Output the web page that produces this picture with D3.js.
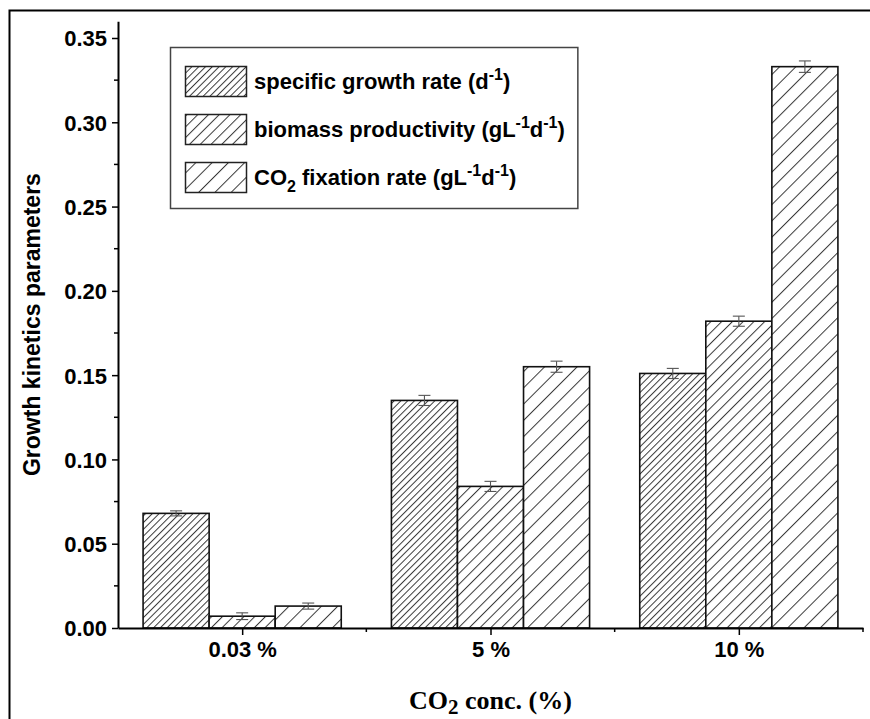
<!DOCTYPE html>
<html>
<head>
<meta charset="utf-8">
<script src="https://cdn.jsdelivr.net/npm/d3@7"></script>
<style>
  html, body { margin: 0; padding: 0; background: #fff; }
  svg { display: block; }
  .sans { font-family: "Liberation Sans", Arial, Helvetica, sans-serif; font-weight: bold; }
  .serif { font-family: "Liberation Serif", "Times New Roman", serif; font-weight: bold; }
</style>
</head>
<body>
<svg id="chart" width="870" height="719"></svg>
<script>
// CO2 concentration groups
const categories = ["0.03 %", "5 %", "10 %"];

// Series values (one per group) and their standard errors
const growthRate      = [0.068, 0.135, 0.151];
const growthRateErr   = [0.0015, 0.003, 0.003];
const biomassProd     = [0.007, 0.084, 0.182];
const biomassProdErr  = [0.002, 0.003, 0.003];
const co2Fixation     = [0.013, 0.155, 0.333];
const co2FixationErr  = [0.0018, 0.0033, 0.0034];

// Y-axis tick values
const yMajorTicks = [0, 0.05, 0.10, 0.15, 0.20, 0.25, 0.30, 0.35];
const yMinorTicks = [0.025, 0.075, 0.125, 0.175, 0.225, 0.275, 0.325];

const series = [
  { key: "sgr",  values: growthRate,  errors: growthRateErr,  spacing: 4.8 },
  { key: "bp",   values: biomassProd, errors: biomassProdErr, spacing: 7.6 },
  { key: "cfr",  values: co2Fixation, errors: co2FixationErr, spacing: 11.5 }
];

const svg = d3.select("#chart");

// Outer figure frame
svg.append("rect")
  .attr("x", 9.5).attr("y", 10.5)
  .attr("width", 900).attr("height", 800)
  .attr("fill", "none").attr("stroke", "#000").attr("stroke-width", 2);

// Hatch patterns: diagonal "/" lines at different densities
const defs = svg.append("defs");
series.forEach(s => {
  const p = defs.append("pattern")
    .attr("id", "hatch-" + s.key)
    .attr("patternUnits", "userSpaceOnUse")
    .attr("width", s.spacing).attr("height", s.spacing)
    .attr("patternTransform", "rotate(45)");
  p.append("rect").attr("width", s.spacing).attr("height", s.spacing).attr("fill", "#fff");
  p.append("line")
    .attr("x1", 0.5).attr("y1", 0).attr("x2", 0.5).attr("y2", s.spacing)
    .attr("stroke", "#3a3a3a").attr("stroke-width", 1);
});

const x = d3.scaleLinear().domain([0.5, 3.5]).range([118, 863]);
const y = d3.scaleLinear().domain([0, 0.36]).range([628, 628 - 0.36 * (590 / 0.35)]);
const barW = 0.266; // bar width in group units

// Bars
series.forEach((s, si) => {
  const g = svg.append("g");
  g.selectAll("rect")
    .data(s.values)
    .join("rect")
    .attr("x", (d, i) => x(i + 1 + (si - 1.5) * barW))
    .attr("width", x(1 + barW) - x(1))
    .attr("y", d => y(d))
    .attr("height", d => y(0) - y(d))
    .attr("fill", "url(#hatch-" + s.key + ")")
    .attr("stroke", "#111").attr("stroke-width", 1.6);
});

// Error bars
series.forEach((s, si) => {
  const g = svg.append("g").attr("stroke", "#555").attr("stroke-width", 1.1);
  s.values.forEach((v, i) => {
    const cx = x(i + 1 + (si - 1) * barW);
    const e = s.errors[i];
    g.append("line").attr("x1", cx).attr("x2", cx).attr("y1", y(v - e)).attr("y2", y(v + e));
    g.append("line").attr("x1", cx - 6).attr("x2", cx + 6).attr("y1", y(v + e)).attr("y2", y(v + e));
    g.append("line").attr("x1", cx - 6).attr("x2", cx + 6).attr("y1", y(v - e)).attr("y2", y(v - e));
  });
});

// Y axis
const yAxis = svg.append("g")
  .attr("transform", `translate(${x(0.5)},0)`)
  .call(d3.axisLeft(y).tickValues(yMajorTicks).tickSize(6).tickSizeOuter(0)
    .tickFormat(d3.format(".2f")));
yAxis.append("g").selectAll("line")
  .data(yMinorTicks).join("line")
  .attr("x1", -4).attr("x2", 0)
  .attr("y1", d => y(d)).attr("y2", d => y(d))
  .attr("stroke", "#000").attr("stroke-width", 1.5);

// X axis
const xAxis = svg.append("g")
  .attr("transform", `translate(0,${y(0)})`)
  .call(d3.axisBottom(x).tickValues([1, 2, 3]).tickSize(7).tickSizeOuter(0)
    .tickFormat(d => categories[d - 1]));
xAxis.append("g").selectAll("line")
  .data([1.5, 2.5, 3.5]).join("line")
  .attr("x1", d => x(d)).attr("x2", d => x(d))
  .attr("y1", 0).attr("y2", 4)
  .attr("stroke", "#000").attr("stroke-width", 1.5);

[yAxis, xAxis].forEach(a => {
  a.attr("font-family", null).attr("font-size", null);
  a.select(".domain").attr("stroke", "#000").attr("stroke-width", 2);
  a.selectAll(".tick line").attr("stroke", "#000").attr("stroke-width", 1.5);
  a.selectAll(".tick text").attr("class", "sans").attr("font-size", 22).attr("fill", "#000");
});
yAxis.selectAll(".tick text").attr("x", -11).attr("dy", "0.36em");
xAxis.selectAll(".tick text").attr("y", 13).attr("dy", "0.71em");

// Y axis title
svg.append("text")
  .attr("class", "sans")
  .attr("transform", `translate(40,${(y(0) + y(0.36)) / 2}) rotate(-90)`)
  .attr("text-anchor", "middle")
  .attr("font-size", 23)
  .text("Growth kinetics parameters");

// X axis title with subscript
const xt = svg.append("text")
  .attr("class", "serif")
  .attr("x", x(2)).attr("y", 709)
  .attr("text-anchor", "middle")
  .attr("font-size", 26);
xt.append("tspan").text("CO");
xt.append("tspan").attr("font-size", 21).attr("dy", 5).text("2");
xt.append("tspan").attr("dy", -5).text(" conc. (%)");

// Legend
const legend = svg.append("g");
const legendBox = legend.append("rect")
  .attr("x", 170.5).attr("y", 47.5).attr("height", 161)
  .attr("fill", "#fff").attr("stroke", "#444").attr("stroke-width", 1.5);

const legendRows = [
  { key: "sgr", parts: [["specific growth rate (d", 0], ["-1", -1], [")", 0]] },
  { key: "bp",  parts: [["biomass productivity (gL", 0], ["-1", -1], ["d", 0], ["-1", -1], [")", 0]] },
  { key: "cfr", parts: [["CO", 0], ["2", 1], [" fixation rate (gL", 0], ["-1", -1], ["d", 0], ["-1", -1], [")", 0]] }
];
const rowTop = [66, 114, 162];
let legendRight = 0;
legendRows.forEach((r, i) => {
  legend.append("rect")
    .attr("x", 185.5).attr("y", rowTop[i] + 0.5).attr("width", 61).attr("height", 30)
    .attr("fill", "url(#hatch-" + r.key + ")")
    .attr("stroke", "#222").attr("stroke-width", 1.5);
  const t = legend.append("text")
    .attr("class", "sans")
    .attr("x", 254).attr("y", rowTop[i] + 23)
    .attr("font-size", 22);
  let shift = 0;
  r.parts.forEach(([str, pos]) => {
    const target = pos === -1 ? -9 : pos === 1 ? 7 : 0;
    t.append("tspan")
      .attr("dy", target - shift)
      .attr("font-size", pos === 0 ? 22 : 16)
      .text(str);
    shift = target;
  });
  const bb = t.node().getBBox();
  legendRight = Math.max(legendRight, bb.x + bb.width);
});
legendBox.attr("width", legendRight + 13 - 170.5);
</script>
</body>
</html>
